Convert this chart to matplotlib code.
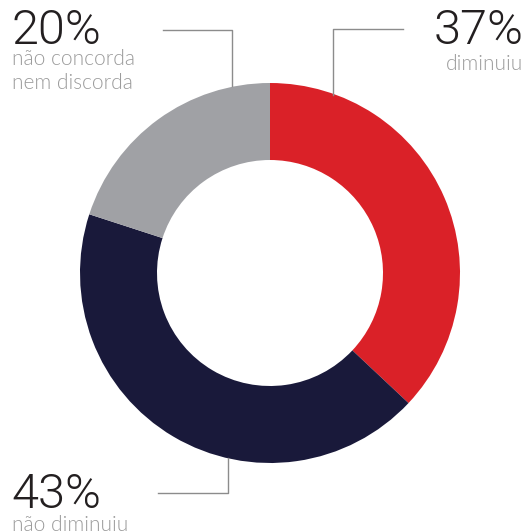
import matplotlib
matplotlib.use("Agg")
import matplotlib.pyplot as plt

# survey answers, clockwise from the top
labels = ["diminuiu", "não diminuiu", "não concorda\nnem discorda"]
values = [37, 43, 20]
colors = ["#DA2128", "#19193A", "#A0A1A5"]

W, H = 528, 532
fig = plt.figure(figsize=(W / 100, H / 100), dpi=100)
ax = fig.add_axes([0, 0, 1, 1])

cx, cy, r = 270, H - 273, 190
ax.pie(values, colors=colors, startangle=90, counterclock=False,
       center=(cx, cy), radius=r, frame=True,
       wedgeprops=dict(width=77, linewidth=0))
ax.set_xlim(0, W)
ax.set_ylim(0, H)
ax.set_aspect("equal")
ax.axis("off")

big = dict(family="Roboto", weight=300, fontsize=35, color="#231F20")
small = dict(family="Lato", weight=300, fontsize=15, color="#9B9B9B", linespacing=1.25)
line = dict(color="#8C8C8C", linewidth=1)

# 37% - top right
ax.text(524, H - 44, f"{values[0]}%", ha="right", va="baseline", **big)
ax.text(523, H - 70, labels[0], ha="right", va="baseline", **small)
ax.plot([403, 333, 333], [H - 29, H - 29, H - 95], **line)

# 20% - top left
ax.text(11, H - 44, f"{values[2]}%", ha="left", va="baseline", **big)
ax.text(12, H - 89, labels[2], ha="left", va="baseline", **small)
ax.plot([163, 232, 232], [H - 30, H - 30, H - 86], **line)

# 43% - bottom left
ax.text(11, H - 508, f"{values[1]}%", ha="left", va="baseline", **big)
ax.text(12, H - 531, labels[1], ha="left", va="baseline", **small)
ax.plot([158, 228, 228], [H - 493, H - 493, H - 458], **line)

fig.savefig("out.png", dpi=100)
